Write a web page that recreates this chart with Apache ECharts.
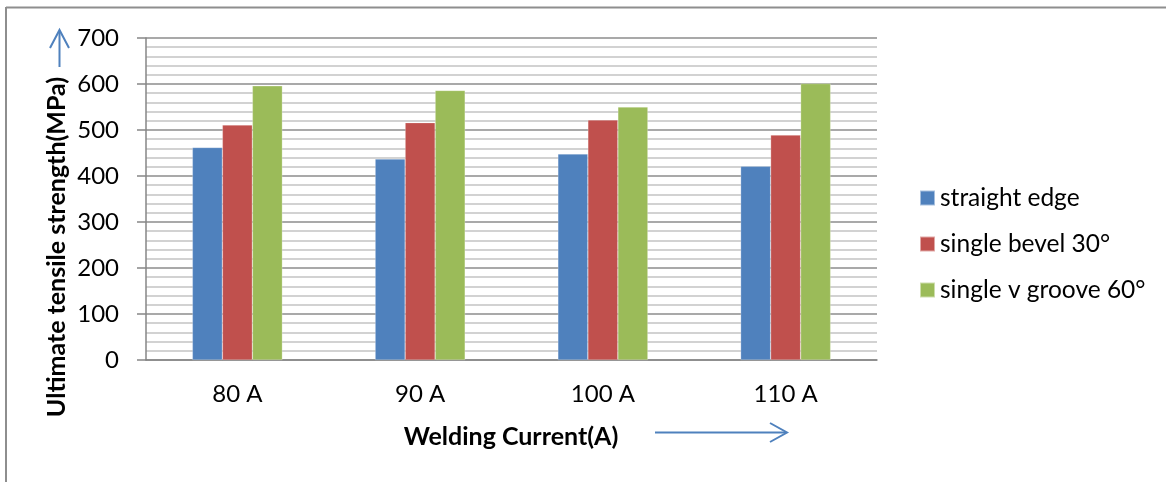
<!DOCTYPE html>
<html>
<head>
<meta charset="utf-8">
<script src="https://cdn.jsdelivr.net/npm/echarts@6/dist/echarts.min.js"></script>
<style>html,body{margin:0;padding:0;background:#fff}#c{width:1166px;height:482px}</style>
</head>
<body>
<div id="c"></div>
<script>
const categories = ['80 A', '90 A', '100 A', '110 A'];
const straightEdge = [462, 437, 448, 421];
const singleBevel30 = [511, 516, 522, 489];
const singleVGroove60 = [596, 586, 550, 601];
const seriesNames = ['straight edge', 'single bevel 30°', 'single v groove 60°'];
const colors = ['#4F81BD', '#C0504D', '#9BBB59'];
const FONT = 'Lato';

const chart = echarts.init(document.getElementById('c'), null, {renderer: 'canvas'});
const barStyle = c => ({color: c, borderColor: 'rgba(255,255,255,0.5)', borderWidth: 0.5});
chart.setOption({
  animation: false,
  textStyle: {fontFamily: FONT},
  grid: {left: 146, right: 289, top: 38, bottom: 122, containLabel: false},
  legend: {
    orient: 'vertical', left: 919, top: 183, itemGap: 16, itemWidth: 15, itemHeight: 15,
    icon: 'rect', padding: 0,
    textStyle: {fontFamily: FONT, fontSize: 24.5, lineHeight: 30, color: '#000'},
    data: seriesNames
  },
  xAxis: {
    type: 'category', data: categories,
    axisLine: {lineStyle: {color: '#868686', width: 1.5}},
    axisTick: {show: false},
    axisLabel: {fontFamily: FONT, fontSize: 24, color: '#000', margin: 22}
  },
  yAxis: {
    type: 'value', min: 0, max: 700, interval: 100,
    axisLine: {show: true, lineStyle: {color: '#868686', width: 1.5}},
    axisTick: {show: true, inside: false, length: 9, lineStyle: {color: '#868686', width: 1.5}},
    axisLabel: {fontFamily: FONT, fontSize: 24, color: '#000', margin: 27},
    splitLine: {show: true, lineStyle: {color: '#8c8c8c', width: 1.5}},
    minorTick: {show: false, splitNumber: 5},
    minorSplitLine: {show: true, lineStyle: {color: '#c3c3c3', width: 1.5}}
  },
  series: [
    {name: seriesNames[0], type: 'bar', data: straightEdge, barWidth: 30, barGap: '0%', itemStyle: barStyle(colors[0])},
    {name: seriesNames[1], type: 'bar', data: singleBevel30, barWidth: 30, barGap: '0%', itemStyle: barStyle(colors[1])},
    {name: seriesNames[2], type: 'bar', data: singleVGroove60, barWidth: 30, barGap: '0%', itemStyle: barStyle(colors[2])}
  ],
  graphic: [
    {type: 'line', shape: {x1: 6, y1: 7.5, x2: 1166, y2: 7.5}, style: {stroke: '#8e8e8e', lineWidth: 2}},
    {type: 'line', shape: {x1: 6, y1: 7, x2: 6, y2: 482}, style: {stroke: '#8e8e8e', lineWidth: 2}},
    {type: 'text', x: 57, y: 247, rotation: Math.PI / 2,
      style: {text: 'Ultimate tensile strength(MPa)', font: 'bold 25px ' + FONT, fill: '#000', textAlign: 'center', textVerticalAlign: 'middle'}},
    {type: 'text', x: 511, y: 437,
      style: {text: 'Welding Current(A)', font: 'bold 25px ' + FONT, fill: '#000', textAlign: 'center', textVerticalAlign: 'middle'}},
    {type: 'line', shape: {x1: 59.5, y1: 67, x2: 59.5, y2: 31}, style: {stroke: '#4F81BD', lineWidth: 2}},
    {type: 'polyline', shape: {points: [[50, 48], [59.5, 30], [69, 48]]}, style: {stroke: '#4F81BD', lineWidth: 2, fill: null}},
    {type: 'line', shape: {x1: 655, y1: 432.5, x2: 786, y2: 432.5}, style: {stroke: '#4F81BD', lineWidth: 2}},
    {type: 'polyline', shape: {points: [[770, 423], [787, 432.5], [770, 442]]}, style: {stroke: '#4F81BD', lineWidth: 2, fill: null}}
  ]
});
</script>
</body>
</html>
